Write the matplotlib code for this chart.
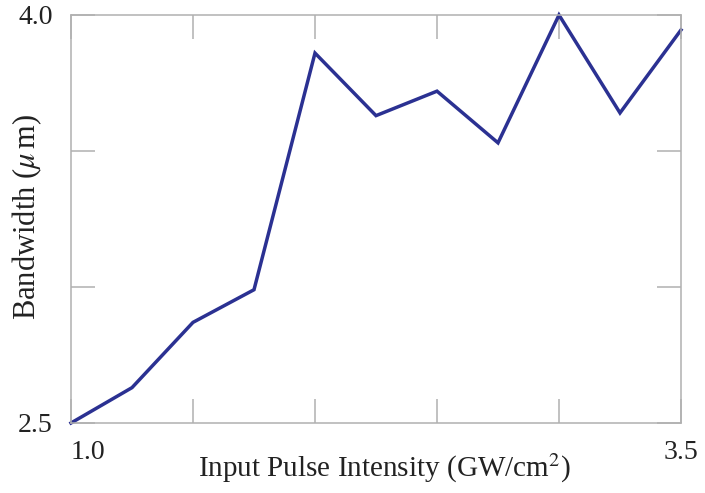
import numpy as np
import matplotlib
matplotlib.use("Agg")
from matplotlib import pyplot as plt

intensity = [1.0, 1.25, 1.5, 1.75, 2.0, 2.25, 2.5, 2.75, 3.0, 3.25, 3.5]
bandwidth = [2.5, 2.63, 2.87, 2.99, 3.86, 3.63, 3.72, 3.53, 4.0, 3.64, 3.945]
xticks = [1.0, 1.5, 2.0, 2.5, 3.0, 3.5]
xlabels = ["1.0", "", "", "", "", "3.5"]
yticks = [2.5, 3.0, 3.5, 4.0]
ylabels = ["2.5", "", "", "4.0"]

plt.rcParams['font.family'] = ['Liberation Serif', 'DejaVu Serif']
plt.rcParams['mathtext.fontset'] = 'stix'

fig = plt.figure(figsize=(7.05, 4.93), dpi=100)
ax = fig.add_axes([71/705, 1-423/493, 610/705, 408/493])
ax.plot(intensity, bandwidth, color='#2b3192', lw=2.5, clip_on=False, solid_joinstyle='miter')
ax.set_xlim(1.0, 3.5)
ax.set_ylim(2.5, 4.0)
ax.set_xticks(xticks)
ax.set_xticklabels(xlabels)
ax.set_yticks(yticks)
ax.set_yticklabels(ylabels)
ax.get_xticklabels()[0].set_ha('left')
for s in ax.spines.values():
    s.set_color('#b0b0b0')
    s.set_linewidth(1.1)
ax.tick_params(direction='in', length=17, width=1.1, color='#b0b0b0',
               top=True, right=True, labelsize=20, labelcolor='#222222', pad=12)
ax.tick_params(axis='y', pad=13)
ax.set_xlabel("Input Pulse Intensity (GW/cm$^2$)", fontsize=21, color='#222222')
ax.set_ylabel("Bandwidth ($\\mu\\,$m)", fontsize=22, color='#222222')
ax.xaxis.set_label_coords(0.513, -0.071)
ax.yaxis.set_label_coords(-0.044, 0.505)
fig.savefig("out.png", dpi=100)
